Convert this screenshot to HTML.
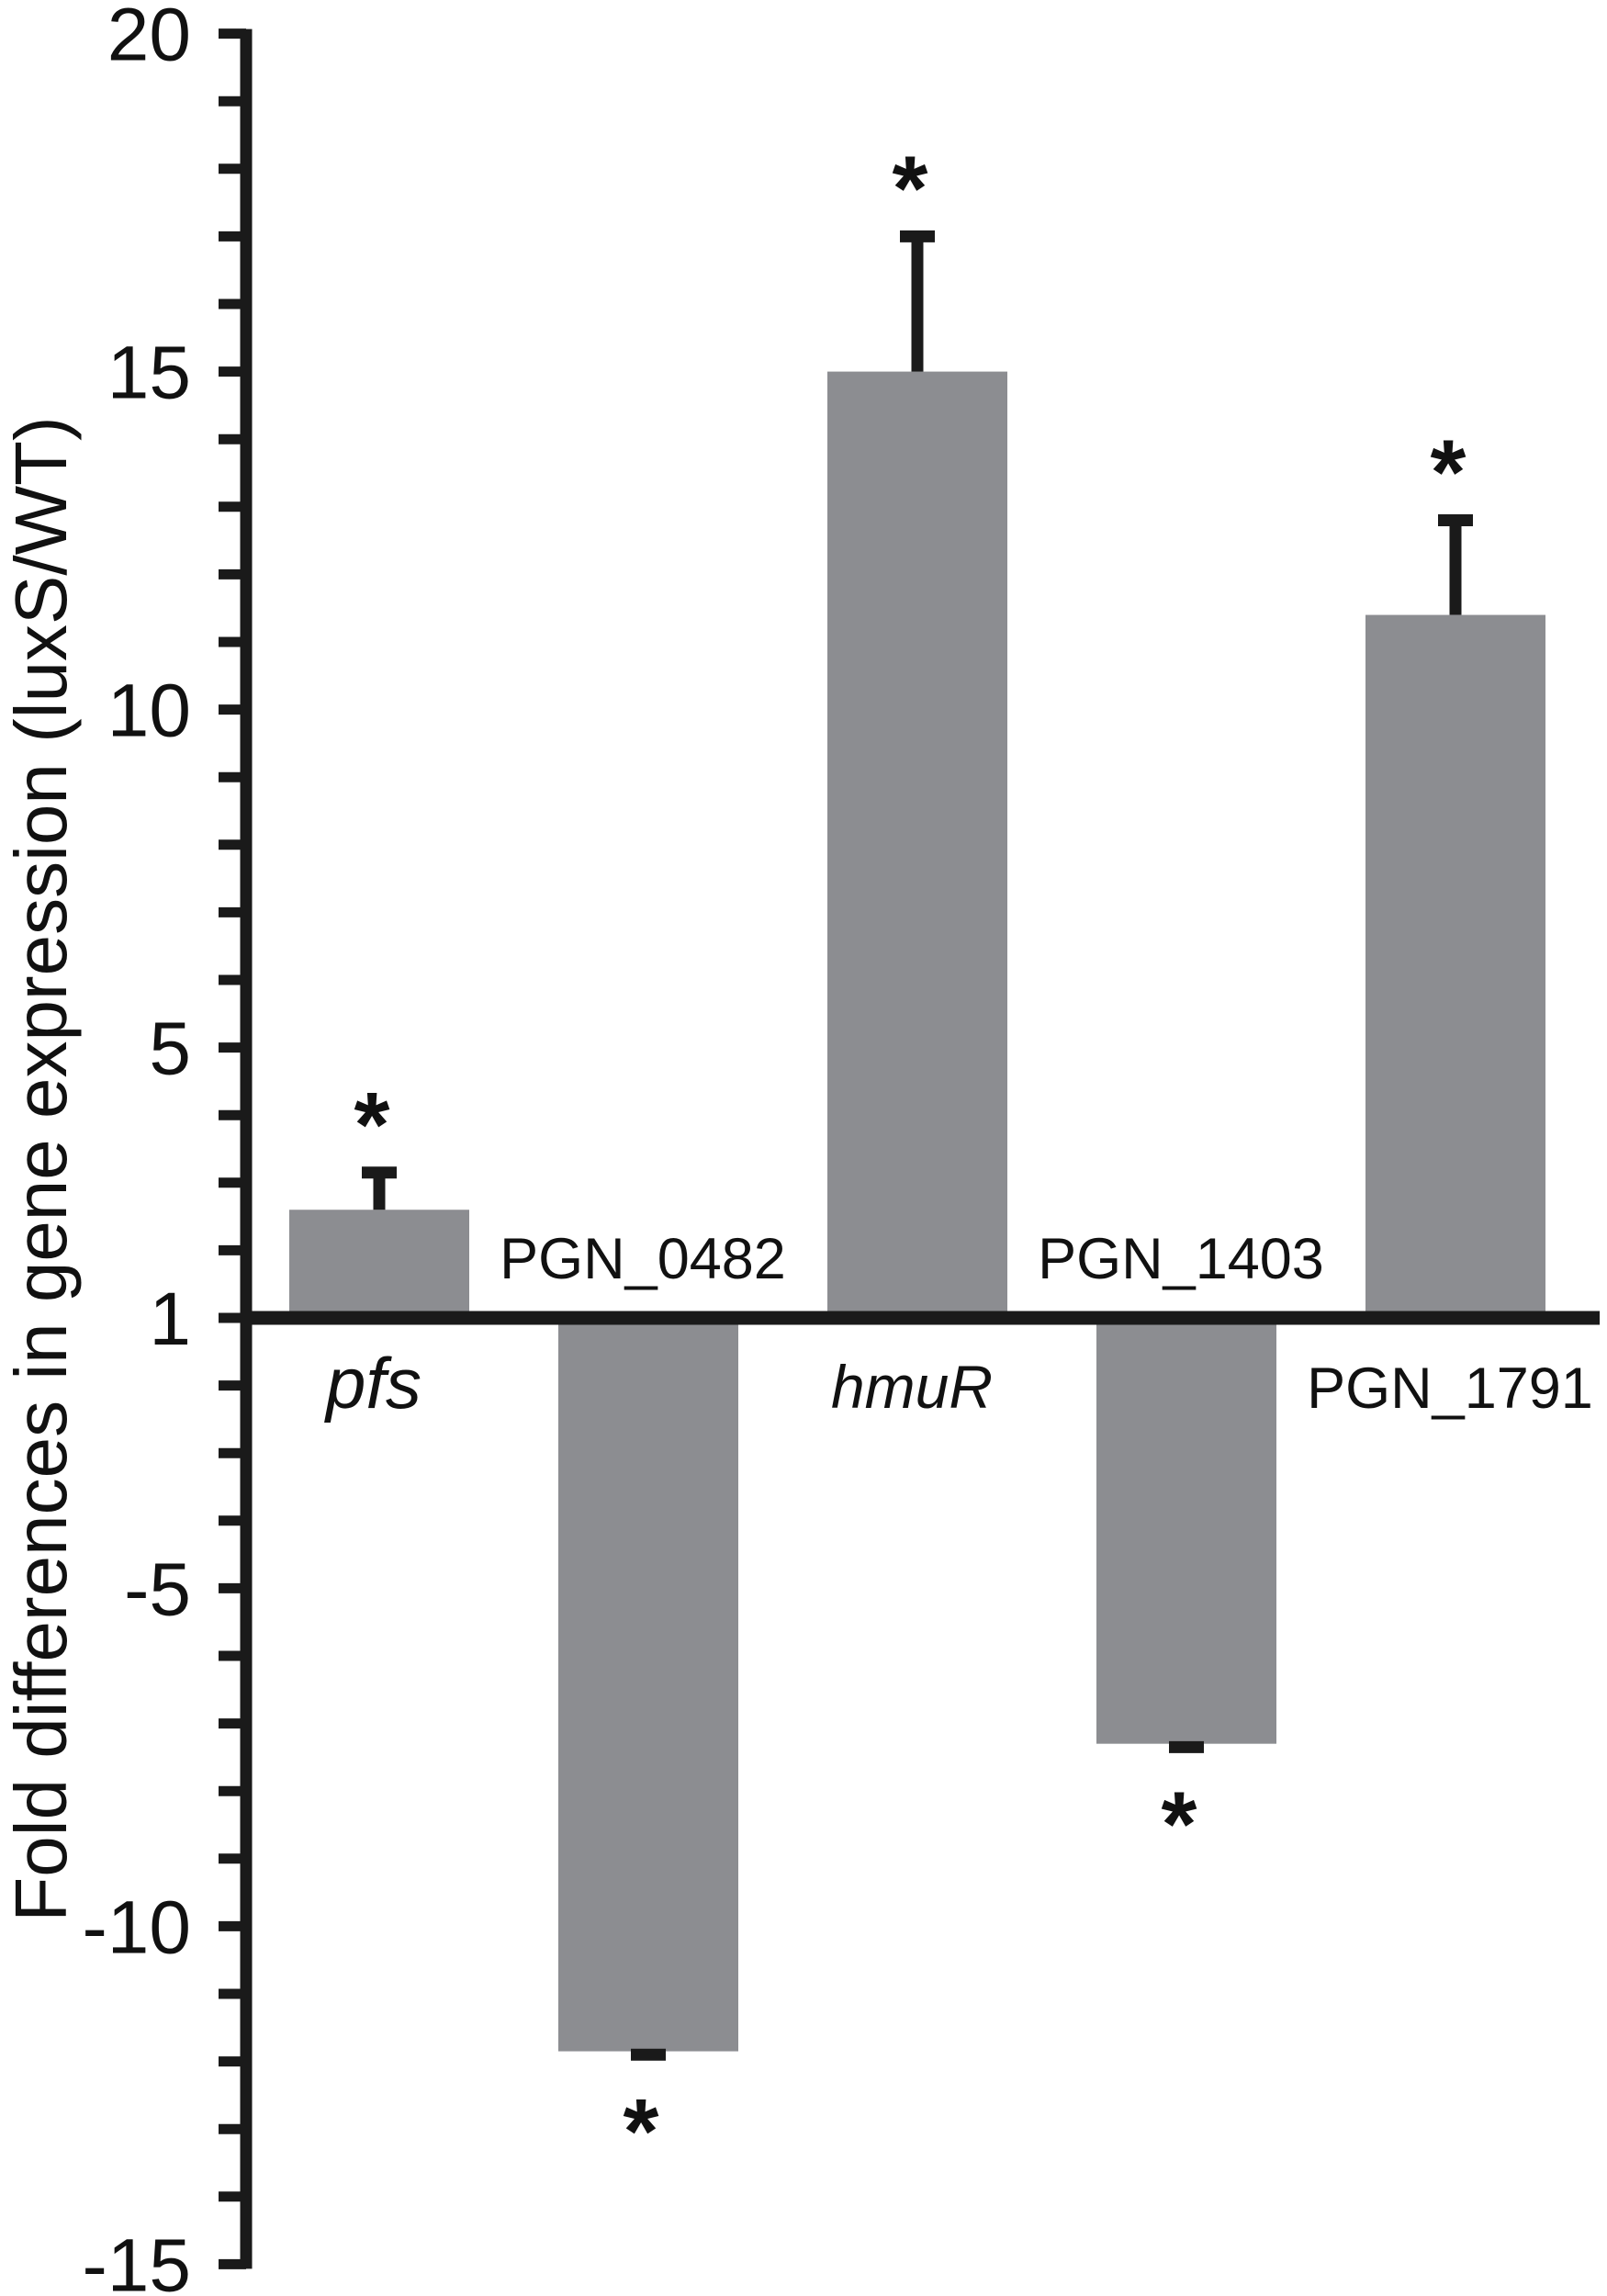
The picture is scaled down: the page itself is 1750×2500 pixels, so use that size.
<!DOCTYPE html>
<html><head><meta charset="utf-8"><style>
html,body{margin:0;padding:0;background:#fff;}
svg{display:block;}
text{font-family:"Liberation Sans",Arial,sans-serif;fill:#111;}
</style></head><body>
<svg id="chart" width="1750" height="2500" viewBox="0 0 1750 2500" xmlns="http://www.w3.org/2000/svg">
<text transform="translate(72,1273) rotate(-90)" text-anchor="middle" font-size="80">Fold differences in gene expression (luxS/WT)</text>
<g id="ticks"></g>
<g id="bars"></g>
</svg>
<script>
const categories = ["pfs", "PGN_0482", "hmuR", "PGN_1403", "PGN_1791"];
const italicCats = [true, false, true, false, false];
const labelSizes = [78, 63, 66, 63, 63];
const values = [2.6, -11.85, 15.0, -7.3, 11.4];
const errors = [0.55, 0.05, 2.0, 0.05, 1.4];
const tickLabels = [20, 15, 10, 5, 1, -5, -10, -15];

const NS = "http://www.w3.org/2000/svg";
const svg = document.getElementById('chart');
const tickG = document.getElementById('ticks');
const barG = document.getElementById('bars');
const BASE = 1435, UNIT = 73.6, AXX = 268, X0 = 413, STEP = 293, BW = 196;
function yScale(v){ return v >= 1 ? BASE - (v - 1) * UNIT : BASE + (-v - 1) * UNIT; }
function xCenter(i){ return X0 + i * STEP; }
function mk(tag, attrs){ const e = document.createElementNS(NS, tag); for (const k in attrs) e.setAttribute(k, attrs[k]); return e; }

values.forEach((v, i) => {
  const cx = xCenter(i);
  const yv = yScale(v);
  const top = Math.min(yv, BASE), h = Math.abs(yv - BASE);
  const r = mk('rect', {x: cx - BW/2, y: top, width: BW, height: h, fill: '#8c8d91'});
  
  
  barG.appendChild(r);
  const sign = v >= 0 ? 1 : -1;
  const ye = yScale(v + sign * errors[i]);
  const eb = mk('line', {x1: cx, x2: cx, y1: yv, y2: ye, stroke: '#1a1a1a', 'stroke-width': 13});
  
  
  barG.appendChild(eb);
  const cap = mk('line', {x1: cx - 19, x2: cx + 19, y1: ye, y2: ye, stroke: '#1a1a1a', 'stroke-width': 13});
  
  
  barG.appendChild(cap);
  const ast = mk('text', {x: cx - 8, y: v >= 0 ? ye - 18 : ye + 118, 'text-anchor': 'middle', 'font-size': 100, 'font-weight': 'bold'});
  ast.textContent = '*';
  
  
  barG.appendChild(ast);
  const lab = mk('text', {x: cx - 6, y: v >= 0 ? 1533 : 1392, 'text-anchor': 'middle', 'font-size': labelSizes[i]});
  if (italicCats[i]) lab.setAttribute('font-style', 'italic');
  lab.textContent = categories[i];
  
  
  barG.appendChild(lab);
});

for (let v = 20; v >= -15; v--) {
  if (v === 0 || v === -1) continue;
  const y = yScale(v);
  const t = mk('line', {x1: 238, x2: AXX, y1: y, y2: y, stroke: '#1a1a1a', 'stroke-width': 11});
  
  
  tickG.appendChild(t);
}
tickLabels.forEach(v => {
  const t = mk('text', {x: 208, y: yScale(v) + 29, 'text-anchor': 'end', 'font-size': 82});
  t.textContent = String(v);
  
  
  tickG.appendChild(t);
});
const ax = mk('line', {x1: AXX, x2: AXX, y1: yScale(20) - 5, y2: yScale(-15) + 5, stroke: '#1a1a1a', 'stroke-width': 13});


svg.appendChild(ax);
const bl = mk('line', {x1: AXX, x2: 1742, y1: BASE, y2: BASE, stroke: '#1a1a1a', 'stroke-width': 15});


svg.appendChild(bl);
</script>
</body></html>
